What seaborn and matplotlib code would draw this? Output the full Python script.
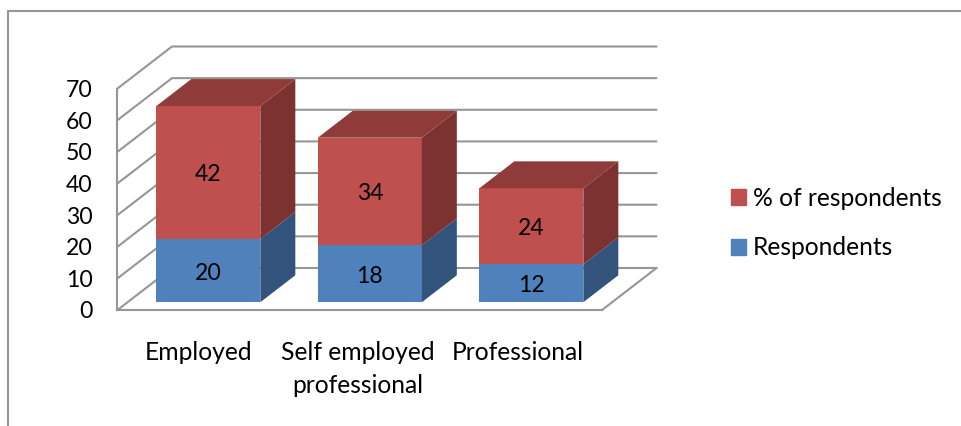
import matplotlib
matplotlib.use("Agg")
import matplotlib.pyplot as plt
from matplotlib.lines import Line2D
from matplotlib.patches import Patch
from matplotlib.transforms import Affine2D, ScaledTranslation
import seaborn as sns

categories = ["Employed", "Self employed\nprofessional", "Professional"]
respondents = [20, 18, 12]
pct_respondents = [42, 34, 24]
y_ticks = [0, 10, 20, 30, 40, 50, 60, 70]

BLUE, BLUE_SIDE = "#4F81BD", "#32547C"
RED, RED_SIDE, RED_TOP = "#C0504D", "#7B3230", "#8E3B39"
GRID = "#969696"
TEXT_SIZE = 17.7
NUMBER_SIZE = 16.6

sns.set_theme(style="white", font="Lato")
plt.rcParams["font.family"] = ["Lato", "DejaVu Sans"]

W, H = 962, 426
fig = plt.figure(figsize=(W / 100, H / 100), dpi=100, facecolor="white")
ax = fig.add_axes([117.5 / W, (H - 310) / H, 484.5 / W, 221.5 / H])
ax.patch.set_alpha(0)

# Oblique projection: depth 0 is the front plane, depth 1 the back wall.
DEPTH_X = 54.5 / 161.5
DEPTH_Y = 42 / 3.164
BAR_WIDTH = 0.644
Z_FRONT, Z_BACK = 0.185, 0.827


def project(x, y, z):
    return x + z * DEPTH_X, y + z * DEPTH_Y


# Walls and floor
x_left, x_right = -0.5, 2.5
for v in y_ticks:
    px, py = zip(project(x_left, v, 0), project(x_left, v, 1), project(x_right, v, 1))
    ax.plot(px, py, color=GRID, lw=1.5, clip_on=False, zorder=1, solid_joinstyle="miter")
px, py = zip(project(x_right, 0, 0), project(x_right, 0, 1))
ax.plot(px, py, color=GRID, lw=1.5, clip_on=False, zorder=1)

# Front faces of the stacked columns, shifted off the front plane
sns.barplot(x=categories, y=respondents, color=BLUE, saturation=1, width=BAR_WIDTH,
            ax=ax, zorder=3, clip_on=False, linewidth=0)
sns.barplot(x=categories, y=pct_respondents, bottom=respondents, color=RED, saturation=1,
            width=BAR_WIDTH, ax=ax, zorder=3, clip_on=False, linewidth=0)
shift = Affine2D().translate(*project(0, 0, Z_FRONT)) + ax.transData
for patch in ax.patches:
    patch.set_transform(shift)


def side_face(i, lo, hi, color):
    xr = i + BAR_WIDTH / 2
    corners = [project(xr, lo, Z_FRONT), project(xr, lo, Z_BACK),
               project(xr, hi, Z_BACK), project(xr, hi, Z_FRONT)]
    ax.fill(*zip(*corners), color=color, lw=0, clip_on=False, zorder=3)


def top_face(i, level, color):
    xl, xr = i - BAR_WIDTH / 2, i + BAR_WIDTH / 2
    corners = [project(xl, level, Z_FRONT), project(xr, level, Z_FRONT),
               project(xr, level, Z_BACK), project(xl, level, Z_BACK)]
    ax.fill(*zip(*corners), color=color, lw=0, clip_on=False, zorder=3)


for i, (r, p) in enumerate(zip(respondents, pct_respondents)):
    side_face(i, 0, r, BLUE_SIDE)
    side_face(i, r, r + p, RED_SIDE)
    top_face(i, r + p, RED_TOP)
    for value, base in ((r, 0), (p, r)):
        ax.annotate(str(value), project(i, base + value / 2, Z_FRONT), xytext=(0, -1.8),
                    textcoords="offset points", ha="center", va="center",
                    fontsize=NUMBER_SIZE, color="black", zorder=4)

# Axes furniture
ax.set_xlim(x_left, x_right)
ax.set_ylim(0, 70)
ax.set_yticks(y_ticks)
ax.set_xticks([0, 0.985, 1.98])
ax.set_xticklabels(categories, linespacing=1.56)
ax.tick_params(axis="y", length=0, pad=18, labelsize=NUMBER_SIZE, colors="black")
ax.tick_params(axis="x", length=0, pad=22, labelsize=TEXT_SIZE, colors="black")
ax.grid(False)
for name, spine in ax.spines.items():
    spine.set_visible(name in ("left", "bottom"))
    spine.set_color(GRID)
    spine.set_linewidth(1.5)

# Outer chart frame, open on the right and at the bottom
fig.add_artist(Line2D([8 / W, 8 / W], [0, 1 - 11 / H], color=GRID, lw=1.5))
fig.add_artist(Line2D([8 / W, 1], [1 - 11 / H, 1 - 11 / H], color=GRID, lw=1.5))

fig.legend(handles=[Patch(color=RED, label="% of respondents"),
                    Patch(color=BLUE, label="Respondents")],
           loc="upper left", bbox_to_anchor=(731 / W, 1 - 187 / H), frameon=False,
           fontsize=TEXT_SIZE, handlelength=0.61, handleheight=0.61, handletextpad=0.28,
           labelspacing=1.07, borderpad=0, borderaxespad=0, labelcolor="black")

fig.savefig("out.png", dpi=100)
